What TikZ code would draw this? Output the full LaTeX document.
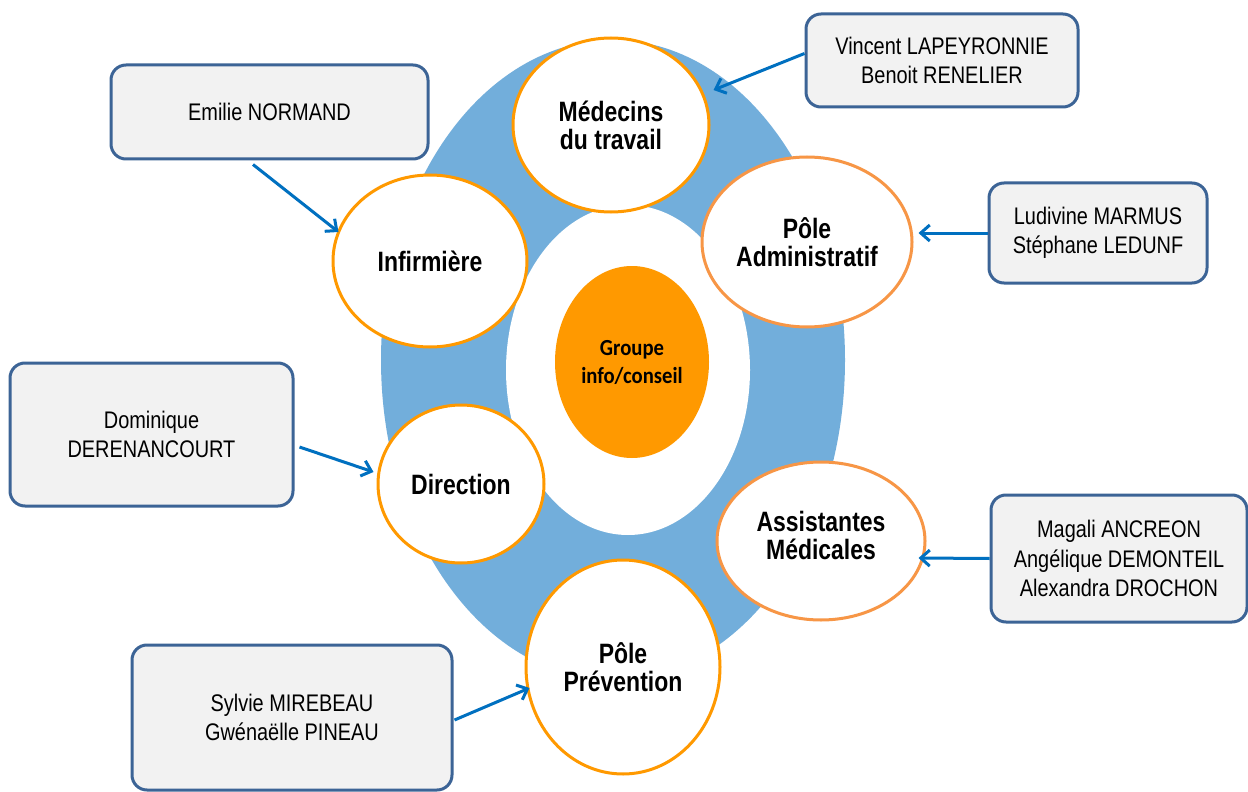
\documentclass[tikz,border=0pt]{standalone}
\usepackage{fontspec}
\setmainfont{Liberation Sans}
\newfontfamily\boxfont[FakeStretch=0.83]{Liberation Sans}
\newfontfamily\circfont[FakeStretch=0.82]{Liberation Sans}
\newfontfamily\calfont[FakeStretch=0.9]{Carlito}
\usetikzlibrary{shapes.geometric,arrows.meta,calc}
\definecolor{ringblue}{RGB}{114,174,219}
\definecolor{orangeA}{RGB}{255,153,0}
\definecolor{orangeB}{RGB}{247,150,70}
\definecolor{boxline}{RGB}{60,100,150}
\definecolor{boxfill}{RGB}{242,242,242}
\definecolor{arrowblue}{RGB}{0,112,192}
\tikzset{
  namebox/.style={draw=boxline, fill=boxfill, line width=1.5pt, rounded corners=7.5pt,
    align=center, inner sep=0pt, font=\boxfont\fontsize{12pt}{14.6pt}\selectfont},
  role/.style={ellipse, draw=orangeA, fill=white, line width=1.5pt, inner sep=0pt,
    align=center, font=\circfont\bfseries\fontsize{14pt}{14pt}\selectfont},
  rolepeach/.style={role, draw=orangeB},
  arr/.style={draw=arrowblue, line width=1.5pt, -{Straight Barb[length=4.5pt,width=8pt]}}
}
\begin{document}
\begin{tikzpicture}[x=0.5pt,y=-0.5pt]
\useasboundingbox (0,0) rectangle (1248,792);
\fill[white] (0,0) rectangle (1248,792);
% ring
\node[ellipse, fill=ringblue, minimum width=232pt, minimum height=320pt, inner sep=0pt] (ring) at (613,360) {};
\node[ellipse, fill=white, minimum width=122pt, minimum height=165pt, inner sep=0pt] (inner) at (628,370) {};
\node[ellipse, fill=orangeA, minimum width=77pt, minimum height=96pt, inner sep=0pt,
  align=center, font=\calfont\bfseries\fontsize{11.5pt}{14pt}\selectfont] (centre) at (632,362) {Groupe\\info/conseil};
% role circles
\node[role, minimum width=98pt, minimum height=87pt] (med) at (611,125) {Médecins\\du travail};
\node[rolepeach, minimum width=105pt, minimum height=85pt] (adm) at (807,242) {Pôle\\Administratif};
\node[role, minimum width=97pt, minimum height=86pt] (inf) at (430,261) {Infirmière};
\node[role, minimum width=83pt, minimum height=79pt] (dir) at (461,484) {Direction};
\node[rolepeach, minimum width=104pt, minimum height=79pt] (asm) at (821,541) {Assistantes\\Médicales\\[-8pt]\mbox{}};
\node[role, minimum width=97pt, minimum height=107pt] (prev) at (623,667) {Pôle\\Prévention};
% name boxes
\node[namebox, minimum width=158.5pt, minimum height=47pt] (emilie) at (269.5,112) {Emilie NORMAND};
\node[namebox, minimum width=136pt, minimum height=46.5pt] (vincent) at (942,60.5) {Vincent LAPEYRONNIE\\Benoit RENELIER};
\node[namebox, minimum width=109pt, minimum height=50pt] (ludivine) at (1098,233) {Ludivine MARMUS\\Stéphane LEDUNF};
\node[namebox, minimum width=141.5pt, minimum height=71.5pt] (dominique) at (151.5,434.5) {Dominique\\DERENANCOURT};
\node[namebox, minimum width=128pt, minimum height=63.5pt] (magali) at (1119,558.5) {Magali ANCREON\\Angélique DEMONTEIL\\Alexandra DROCHON};
\node[namebox, minimum width=160pt, minimum height=72.5pt] (sylvie) at (292,717.5) {Sylvie MIREBEAU\\Gwénaëlle PINEAU};
% arrows
\draw[arr] ($(emilie.south)+(-16.5,4)$) -- ($(inf.west)+(7,-29)$);
\draw[arr] ($(vincent.west)+(0,-7)$) -- ($(med.east)+(3,-35)$);
\draw[arr] (ludivine.west) -- ($(adm.east)+(5,-9)$);
\draw[arr] ($(dominique.east)+(5,12.5)$) -- ($(dir.west)+(-3,-12)$);
\draw[arr] (magali.west) -- ($(asm.east)+(-8,17)$);
\draw[arr] ($(sylvie.east)+(1,2.5)$) -- ($(prev.west)+(5,21)$);
\end{tikzpicture}
\end{document}
